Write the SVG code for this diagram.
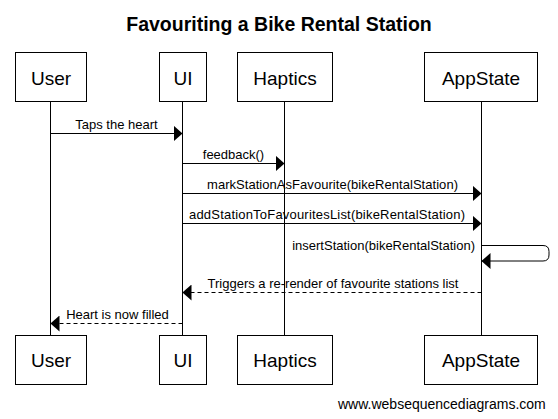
<svg xmlns="http://www.w3.org/2000/svg" width="558" height="419" viewBox="0 0 558 419">
<style>
text{font-family:"Liberation Sans",Arial,sans-serif;fill:#000}
.title{font-size:19.5px;font-weight:bold;text-anchor:middle}
.pname{font-size:19px;text-anchor:middle}
.msg{font-size:13px;text-anchor:middle}
.box{fill:#fff;stroke:#000;stroke-width:1}
.life{stroke:#000;stroke-width:1}
.arr{fill:none;stroke:#000;stroke-width:1;marker-end:url(#ah)}
.dash{stroke-dasharray:4,3}
.foot{font-size:14px}
</style>
<defs>
<marker id="ah" viewBox="0 0 9 16" refX="9" refY="8" markerWidth="9" markerHeight="16" orient="auto" markerUnits="userSpaceOnUse">
<path d="M0,0 L9,8 L0,16 z" fill="#000"/>
</marker>
</defs>
<rect width="558" height="419" fill="#fff"/>
<text class="title" x="279" y="31">Favouriting a Bike Rental Station</text>
<g id="lifelines">
<line class="life" x1="50.5" y1="102" x2="50.5" y2="336"/>
<line class="life" x1="182.5" y1="102" x2="182.5" y2="336"/>
<line class="life" x1="284.5" y1="102" x2="284.5" y2="336"/>
<line class="life" x1="481.5" y1="102" x2="481.5" y2="336"/>
</g>
<g id="user">
<rect class="box" x="15.5" y="52.5" width="71" height="49"/>
<text class="pname" x="51" y="85">User</text>
<rect class="box" x="15.5" y="335.5" width="71" height="49"/>
<text class="pname" x="51" y="367">User</text>
</g>
<g id="ui">
<rect class="box" x="159.5" y="52.5" width="47" height="49"/>
<text class="pname" x="183" y="85">UI</text>
<rect class="box" x="159.5" y="335.5" width="47" height="49"/>
<text class="pname" x="183" y="367">UI</text>
</g>
<g id="haptics">
<rect class="box" x="237.5" y="52.5" width="95" height="49"/>
<text class="pname" x="285" y="85">Haptics</text>
<rect class="box" x="237.5" y="335.5" width="95" height="49"/>
<text class="pname" x="285" y="367">Haptics</text>
</g>
<g id="appstate">
<rect class="box" x="424.5" y="52.5" width="113" height="49"/>
<text class="pname" x="481" y="85">AppState</text>
<rect class="box" x="424.5" y="335.5" width="113" height="49"/>
<text class="pname" x="481" y="367">AppState</text>
</g>
<g id="connectors">
<line class="arr" x1="50.5" y1="133.5" x2="182.5" y2="133.5"/>
<text class="msg" x="116.5" y="128.5">Taps the heart</text>
<line class="arr" x1="182.5" y1="163.5" x2="284.5" y2="163.5"/>
<text class="msg" x="233.5" y="158.5">feedback()</text>
<line class="arr" x1="182.5" y1="193.5" x2="481.5" y2="193.5"/>
<text class="msg" x="332.5" y="188.5" textLength="251" lengthAdjust="spacing">markStationAsFavourite(bikeRentalStation)</text>
<line class="arr" x1="182.5" y1="223.5" x2="481.5" y2="223.5"/>
<text class="msg" x="327" y="219" textLength="276" lengthAdjust="spacing">addStationToFavouritesList(bikeRentalStation)</text>
<path class="arr" d="M481.5,245.5 H543 Q549,245.5 549,251.5 V255 Q549,261 543,261 H481.5"/>
<text class="msg" x="475" y="249.5" style="text-anchor:end">insertStation(bikeRentalStation)</text>
<line class="arr dash" x1="481.5" y1="292.5" x2="182.5" y2="292.5"/>
<text class="msg" x="333" y="287.5">Triggers a re-render of favourite stations list</text>
<line class="arr dash" x1="182.5" y1="323.5" x2="50.5" y2="323.5"/>
<text class="msg" x="117.5" y="318.5">Heart is now filled</text>
</g>
<text class="foot" x="338" y="409">www.websequencediagrams.com</text>
</svg>
